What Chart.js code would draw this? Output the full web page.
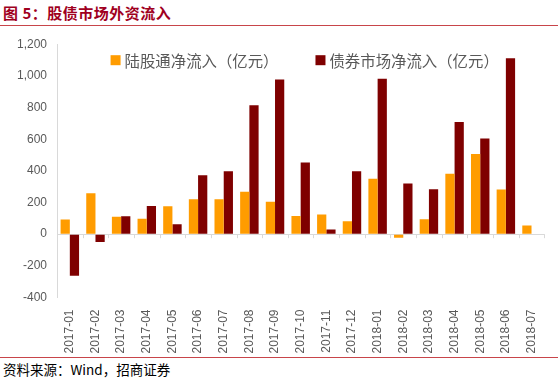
<!DOCTYPE html>
<html>
<head>
<meta charset="utf-8">
<script src="https://cdn.jsdelivr.net/npm/chart.js@4.4.1/dist/chart.umd.min.js"></script>
<style>
  body { margin: 0; width: 558px; height: 378px; background: #fff; position: relative; overflow: hidden; }
  #title { position: absolute; left: 3px; top: 2px; font: bold 15px "Noto Sans CJK SC", sans-serif; color: #a0001e; letter-spacing: 0.5px; }
  #topLine { position: absolute; left: 0; top: 25px; width: 558px; height: 1px; background: #c8454a; }
  #box { position: absolute; left: 0; top: 27px; width: 558px; height: 328px; }
  #bottomLine { position: absolute; left: 0; top: 357px; width: 558px; height: 1px; background: #c8454a; }
  #source { position: absolute; left: 3px; top: 359px; font: 13.5px "Noto Sans CJK SC", sans-serif; color: #000; }
</style>
</head>
<body>
<div id="title">图 5：股债市场外资流入</div>
<div id="topLine"></div>
<div id="box"><canvas id="flowChart"></canvas></div>
<div id="bottomLine"></div>
<div id="source">资料来源：Wind，招商证券</div>
<script>
const months = ["2017-01", "2017-02", "2017-03", "2017-04", "2017-05", "2017-06", "2017-07", "2017-08", "2017-09", "2017-10",
  "2017-11", "2017-12", "2018-01", "2018-02", "2018-03", "2018-04", "2018-05", "2018-06", "2018-07"];
const stockFlow = [92, 258, 110, 98, 176, 220, 220, 268, 205, 115, 125, 82, 350, -22, 95, 382, 507, 282, 55];
const bondFlow = [-262, -50, 113, 178, 62, 372, 397, 815, 977, 452, 30, 397, 982, 320, 284, 708, 605, 1112, null];
const seriesNames = ["陆股通净流入（亿元）", "债券市场净流入（亿元）"];

// little tick marks on the zero line between months
const zeroTicks = {
  id: "zeroTicks",
  afterDatasetsDraw(chart) {
    const x = chart.scales.x, y = chart.scales.y;
    const y0 = y.getPixelForValue(0);
    const ctx = chart.ctx;
    ctx.save();
    ctx.strokeStyle = "#d9d9d9";
    ctx.lineWidth = 1;
    for (let i = 0; i <= months.length; i++) {
      const px = Math.round(x.left + (x.right - x.left) * i / months.length) + 0.5;
      ctx.beginPath();
      ctx.moveTo(px, y0);
      ctx.lineTo(px, y0 + 4);
      ctx.stroke();
    }
    ctx.restore();
  }
};

// legend sits inside the plot, one row, centred near the top
const innerLegend = {
  id: "innerLegend",
  afterDraw(chart) {
    const ctx = chart.ctx, area = chart.chartArea;
    const sets = chart.data.datasets;
    const box = 10, gapText = 4, gapItem = 37;
    ctx.save();
    ctx.font = "15.4px 'Noto Sans CJK SC', sans-serif";
    ctx.textBaseline = "middle";
    const widths = sets.map(d => ctx.measureText(d.label).width);
    let total = widths.reduce((a, w) => a + box + gapText + w, 0) + gapItem * (sets.length - 1);
    let px = (area.left + area.right) / 2 - total / 2 + 4;
    const cy = area.top + 16;
    sets.forEach((d, i) => {
      ctx.fillStyle = d.backgroundColor;
      ctx.fillRect(px, cy - box / 2, box, box);
      px += box + gapText;
      ctx.fillStyle = "#595959";
      ctx.fillText(d.label, px, cy + 1);
      px += widths[i] + gapItem;
    });
    ctx.restore();
  }
};

new Chart("flowChart", {
  type: "bar",
  data: {
    labels: months,
    datasets: [
      { label: seriesNames[0], data: stockFlow, backgroundColor: "#ff9c00" },
      { label: seriesNames[1], data: bondFlow, backgroundColor: "#7f0000" }
    ]
  },
  options: {
    responsive: true,
    maintainAspectRatio: false,
    animation: false,
    layout: { padding: { top: 9, right: 3, left: 0, bottom: 0 } },
    datasets: { bar: { categoryPercentage: 0.72, barPercentage: 1 } },
    plugins: {
      tooltip: { enabled: false },
      legend: { display: false }
    },
    scales: {
      x: {
        grid: { display: false, drawTicks: false },
        border: { display: false },
        ticks: {
          minRotation: 90,
          maxRotation: 90,
          padding: 12,
          color: "#595959",
          font: { family: "'Liberation Sans', sans-serif", size: 12 }
        },
        afterFit(s) { s.height = 57.5; }
      },
      y: {
        min: -400,
        max: 1200,
        ticks: {
          stepSize: 200,
          padding: 10,
          color: "#595959",
          font: { family: "'Liberation Sans', sans-serif", size: 12 }
        },
        grid: {
          drawTicks: false,
          color: c => (c.tick && c.tick.value === 0) ? "#d9d9d9" : "rgba(0,0,0,0)"
        },
        border: { color: "#d9d9d9" },
        afterFit(s) { s.width = 57; }
      }
    }
  },
  plugins: [zeroTicks, innerLegend]
});
</script>
</body>
</html>
